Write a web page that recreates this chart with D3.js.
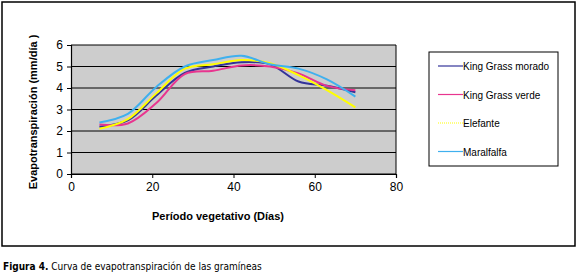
<!DOCTYPE html>
<html>
<head>
<meta charset="utf-8">
<script src="https://cdn.jsdelivr.net/npm/d3@7"></script>
<style>
  body { margin: 0; background: #fff; }
  svg { display: block; }
</style>
</head>
<body>
<div id="chart"></div>
<script>
// days of the vegetative period
var days = [7, 14, 21, 28, 35, 42, 49, 56, 63, 70];

// evapotranspiration (mm/dia) per grass
var kingMorado = [2.2, 2.5, 3.65, 4.7, 5.0, 5.2, 5.1, 4.3, 4.1, 3.8];
var kingVerde  = [2.3, 2.35, 3.3, 4.65, 4.8, 5.05, 5.0, 4.68, 4.1, 3.9];
var elefante   = [2.1, 2.55, 3.75, 4.9, 5.1, 5.3, 5.15, 4.6, 3.9, 3.1];
var maralfalfa = [2.4, 2.8, 4.05, 5.0, 5.3, 5.5, 5.1, 4.9, 4.4, 3.6];

var seriesNames = ["King Grass morado", "King Grass verde", "Elefante", "Maralfalfa"];
var seriesColors = ["#333399", "#e8358f", "#ffff00", "#3fb0ee"];

var xTicks = [0, 20, 40, 60, 80];
var yTicks = [0, 1, 2, 3, 4, 5, 6];

function init() {
    var w = 579, h = 274;

    var svg = d3.select("#chart")
                .append("svg")
                .attr("width", w)
                .attr("height", h);

    // outer frame
    svg.append("rect")
       .attr("x", 2).attr("y", 2)
       .attr("width", 573).attr("height", 244)
       .attr("fill", "#fff")
       .attr("stroke", "#000")
       .attr("stroke-width", 1.5);

    var left = 71, top = 45, right = 396, bottom = 174;

    var x = d3.scaleLinear().domain([0, 80]).range([left, right]);
    var y = d3.scaleLinear().domain([0, 6]).range([bottom, top]);

    // plot background
    svg.append("rect")
       .attr("x", left).attr("y", top)
       .attr("width", right - left).attr("height", bottom - top)
       .attr("fill", "#cdcdcd");

    // gridlines
    svg.append("g")
       .selectAll("line")
       .data(yTicks)
       .enter()
       .append("line")
       .attr("x1", left).attr("x2", right)
       .attr("y1", d => y(d)).attr("y2", d => y(d))
       .attr("stroke", "#000")
       .attr("stroke-width", 1);

    // right border
    svg.append("line")
       .attr("x1", right).attr("x2", right)
       .attr("y1", top).attr("y2", bottom)
       .attr("stroke", "#000");

    // axes
    var yAxis = svg.append("g")
       .attr("transform", "translate(" + left + ",0)")
       .call(d3.axisLeft(y).tickValues(yTicks).tickSize(4).tickPadding(4).tickFormat(d3.format("d")));
    var xAxis = svg.append("g")
       .attr("transform", "translate(0," + bottom + ")")
       .call(d3.axisBottom(x).tickValues(xTicks).tickSize(4).tickPadding(4).tickFormat(d3.format("d")));

    [yAxis, xAxis].forEach(function(a) {
        a.selectAll("text")
         .attr("fill", "#000")
         .style("font-family", "'Liberation Sans', Arial, sans-serif")
         .style("font-size", "12px");
        a.select(".domain").attr("stroke", "#000").attr("stroke-width", 1.2);
        a.selectAll(".tick line").attr("stroke", "#000");
    });

    // lines
    var allSeries = [kingMorado, kingVerde, elefante, maralfalfa];
    var line = d3.line()
                 .x((d, i) => x(days[i]))
                 .y(d => y(d))
                 .curve(d3.curveCatmullRom.alpha(0.5));

    svg.append("g")
       .selectAll("path")
       .data(allSeries)
       .enter()
       .append("path")
       .attr("d", line)
       .attr("fill", "none")
       .attr("stroke", (d, i) => seriesColors[i])
       .attr("stroke-width", 2);

    // axis titles
    svg.append("text")
       .attr("x", 218).attr("y", 220)
       .attr("text-anchor", "middle")
       .style("font-family", "'Liberation Sans', Arial, sans-serif")
       .style("font-size", "11px")
       .style("font-weight", "bold")
       .text("Período vegetativo (Días)");

    svg.append("text")
       .attr("transform", "translate(37,112) rotate(-90)")
       .attr("text-anchor", "middle")
       .style("font-family", "'Liberation Sans', Arial, sans-serif")
       .style("font-size", "11px")
       .style("font-weight", "bold")
       .text("Evapotranspiración (mm/día )");

    // legend
    svg.append("rect")
       .attr("x", 429).attr("y", 52)
       .attr("width", 129).attr("height", 114)
       .attr("fill", "#fff")
       .attr("stroke", "#000")
       .attr("stroke-width", 1);

    var leg = svg.append("g")
       .selectAll("g")
       .data(seriesNames)
       .enter()
       .append("g")
       .attr("transform", (d, i) => "translate(438," + (66 + i * 28.5) + ")");

    leg.append("line")
       .attr("x1", 0).attr("x2", 25)
       .attr("stroke", (d, i) => seriesColors[i])
       .attr("stroke-width", 1.2)
       .attr("stroke-dasharray", (d, i) => i === 2 ? "1,1" : null);

    leg.append("text")
       .attr("x", 25).attr("y", 4)
       .style("font-family", "'Liberation Sans', Arial, sans-serif")
       .style("font-size", "10px")
       .text(d => d);

    // caption
    var cap = svg.append("text")
       .attr("x", 3).attr("y", 270)
       .style("font-family", "'Liberation Sans Narrow', 'DejaVu Sans Condensed', sans-serif")
       .style("font-size", "10px");
    cap.append("tspan").style("font-weight", "bold").text("Figura 4.");
    cap.append("tspan").text(" Curva de evapotranspiración de las gramíneas");
}

window.onload = init;
</script>
</body>
</html>
